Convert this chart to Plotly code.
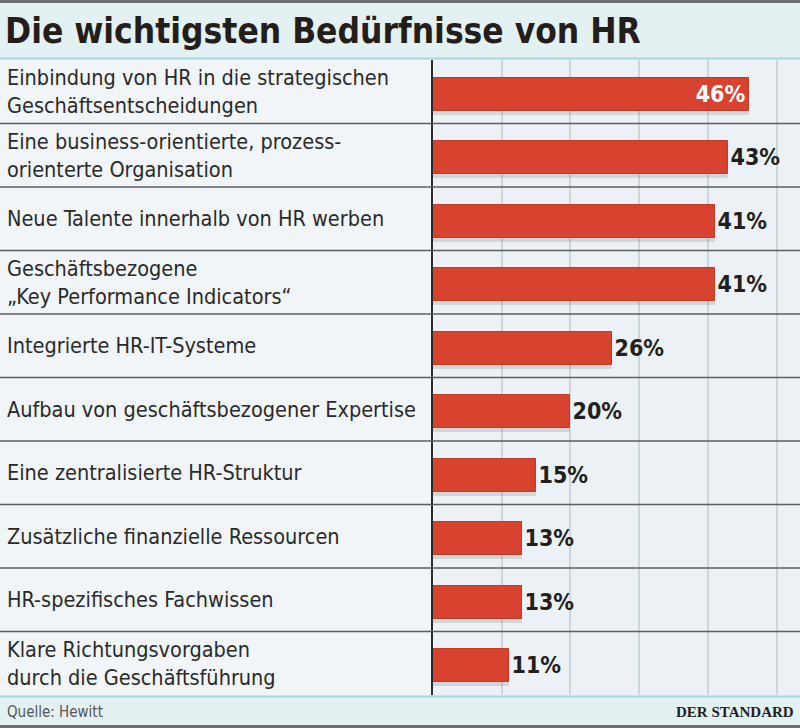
import plotly.graph_objects as go

categories = [
    "Einbindung von HR in die strategischen<br>Geschäftsentscheidungen",
    "Eine business-orientierte, prozess-<br>orienterte Organisation",
    "Neue Talente innerhalb von HR werben",
    "Geschäftsbezogene<br>„Key Performance Indicators“",
    "Integrierte HR-IT-Systeme",
    "Aufbau von geschäftsbezogener Expertise",
    "Eine zentralisierte HR-Struktur",
    "Zusätzliche finanzielle Ressourcen",
    "HR-spezifisches Fachwissen",
    "Klare Richtungsvorgaben<br>durch die Geschäftsführung",
]
values = [46, 43, 41, 41, 26, 20, 15, 13, 13, 11]
value_labels = [f"{v}%" for v in values]
title = "Die wichtigsten Bedürfnisse von HR"
source = "Quelle: Hewitt"
brand = "DER STANDARD"

W, H = 800, 728
ROW_TOP, ROW_BOT = 60, 695
AXIS_X = 433
n = len(categories)
ypos = list(range(n))

COND = "DejaVu Sans Condensed, Liberation Sans Narrow, Arial Narrow, sans-serif"

fig = go.Figure()

# shadow
fig.add_trace(go.Bar(
    x=values, y=ypos, orientation="h", width=0.52, offset=-0.16,
    marker=dict(color="rgba(60,60,60,0.14)", line=dict(width=0)),
    hoverinfo="skip", showlegend=False,
))
fig.add_trace(go.Bar(
    x=values, y=ypos, orientation="h", width=0.52, offset=-0.217,
    marker=dict(color="#d8432f", line=dict(color="#c13a27", width=1)),
    text=value_labels,
    textposition=["inside"] + ["outside"] * (n - 1),
    insidetextanchor="end",
    textfont=dict(family=COND, size=23,
                  color=["#ffffff"] + ["#231f1c"] * (n - 1),
                  weight="bold"),
    cliponaxis=False,
    showlegend=False,
))

shapes = []
shapes.append(dict(type="rect", xref="paper", yref="paper", x0=0, x1=1,
                   y0=1 - ROW_TOP / H, y1=1, fillcolor="#e4f1f3", line_width=0, layer="below"))
shapes.append(dict(type="rect", xref="paper", yref="paper", x0=0, x1=1,
                   y0=0, y1=1 - ROW_BOT / H, fillcolor="#e4f1f3", line_width=0, layer="below"))
shapes.append(dict(type="rect", xref="paper", yref="paper", x0=0, x1=AXIS_X / W,
                   y0=1 - ROW_BOT / H, y1=1 - ROW_TOP / H, fillcolor="#f1f5f7", line_width=0, layer="below"))
shapes.append(dict(type="line", xref="paper", yref="paper", x0=0, x1=1,
                   y0=1 - 1.5 / H, y1=1 - 1.5 / H, line=dict(color="#6b6f72", width=3)))
shapes.append(dict(type="line", xref="paper", yref="paper", x0=0, x1=1,
                   y0=1 - 58.5 / H, y1=1 - 58.5 / H, line=dict(color="#a9d8dc", width=2)))
shapes.append(dict(type="line", xref="paper", yref="paper", x0=0, x1=1,
                   y0=1 - (ROW_BOT + 1.5) / H, y1=1 - (ROW_BOT + 1.5) / H, line=dict(color="#a9d8dc", width=2)))
shapes.append(dict(type="line", xref="paper", yref="paper", x0=0, x1=1,
                   y0=1.5 / H, y1=1.5 / H, line=dict(color="#6b6f72", width=3)))
for k in range(1, n):
    shapes.append(dict(type="line", xref="paper", yref="y", x0=0, x1=1,
                       y0=k - 0.5, y1=k - 0.5, line=dict(color="#5a5e61", width=1.5)))

annotations = []
annotations.append(dict(text=title, xref="paper", yref="paper", x=3 / W, y=1 - 31 / H,
                        xanchor="left", yanchor="middle", showarrow=False,
                        font=dict(family=COND, size=35, color="#241e1a", weight="bold")))
for i, c in enumerate(categories):
    annotations.append(dict(text=c, xref="paper", yref="y", x=5 / W, y=i,
                            xanchor="left", yanchor="middle", align="left", showarrow=False,
                            font=dict(family=COND, size=21.5, color="#2a2a2a")))
annotations.append(dict(text=source, xref="paper", yref="paper", x=5 / W, y=1 - 712 / H,
                        xanchor="left", yanchor="middle", showarrow=False,
                        font=dict(family=COND, size=15, color="#555555")))
annotations.append(dict(text=brand, xref="paper", yref="paper", x=796 / W, y=1 - 712 / H,
                        xanchor="right", yanchor="middle", showarrow=False,
                        font=dict(family="Liberation Serif, serif", size=15, color="#1e1e1e", weight="bold")))

fig.update_layout(
    width=W, height=H, margin=dict(l=0, r=0, t=0, b=0),
    paper_bgcolor="#eef3f6", plot_bgcolor="#ebf1f4",
    barmode="overlay", bargap=0,
    shapes=shapes, annotations=annotations,
    xaxis=dict(domain=[AXIS_X / W, 1], range=[0, (W - AXIS_X) / 6.87],
               showgrid=True, gridcolor="#cad6dc", gridwidth=1.5, dtick=10, tick0=0,
               showticklabels=False, zeroline=False, showline=False, fixedrange=True),
    yaxis=dict(domain=[1 - ROW_BOT / H, 1 - ROW_TOP / H], range=[n - 0.5, -0.5],
               showgrid=False, showticklabels=False, zeroline=False,
               showline=True, linecolor="#2c2c2c", linewidth=2, fixedrange=True),
)

fig.write_html(
    "out.html",
    config={"displayModeBar": False},
    post_script="document.body.style.margin='0';document.body.style.overflow='hidden';",
)
